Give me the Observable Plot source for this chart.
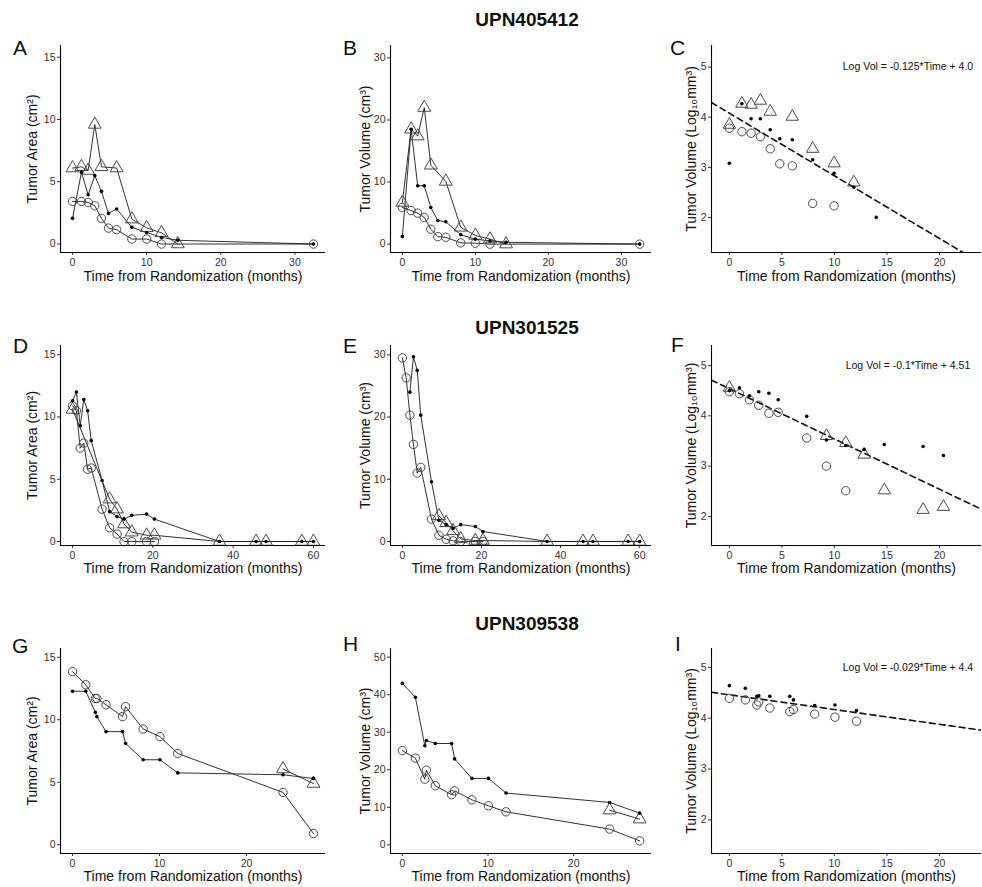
<!DOCTYPE html>
<html>
<head>
<meta charset="utf-8">
<script src="https://cdn.jsdelivr.net/npm/d3@7"></script>
<script src="https://cdn.jsdelivr.net/npm/@observablehq/plot@0.6"></script>
<style>
  html, body { margin: 0; padding: 0; background: #fff; }
  #fig { position: relative; width: 982px; height: 887px; font-family: "Liberation Sans", Arial, sans-serif; overflow: hidden; }
  .panel { position: absolute; }
  .letter { position: absolute; font-size: 21px; line-height: 1; color: #111; }
  .title { position: absolute; font-size: 19px; font-weight: bold; line-height: 1; color: #111; transform: translateX(-50%); white-space: nowrap; }
</style>
</head>
<body>
<div id="fig"></div>
<script>
// ---------------- DATA ----------------
const patients = ["UPN405412", "UPN301525", "UPN309538"];
const panelLetters = ["A", "B", "C", "D", "E", "F", "G", "H", "I"];
const xTitle = "Time from Randomization (months)";
const yTitles = ["Tumor Area (cm²)", "Tumor Volume (cm³)", "Tumor Volume (Log₁₀mm³)"];

// Row 1: UPN405412
const timeR1 = [0, 1.2, 2.1, 3.0, 3.9, 4.85, 5.95, 8.0, 10.0, 12.0, 14.2, 32.5];
const areaDotsA    = [2.06, 5.76, 3.96, 5.49, 4.23, 2.46, 2.81, 1.34, 0.93, 0.53, 0.3, 0.0];
const areaCirclesA = [3.42, 3.42, 3.34, 3.07, 2.06, 1.28, 1.15, 0.4, 0.4, 0.0, null, 0.0];
const areaTrisA    = [6.1, 6.2, 5.9, 9.6, 6.2, null, 6.1, 2.0, 1.3, 0.9, 0.0, null];
const volDotsB     = [1.24, 18.5, 9.4, 9.4, 5.9, 3.8, 3.6, 1.5, 0.8, 0.5, 0.3, 0.0];
const volCirclesB  = [5.9, 5.4, 5.0, 4.3, 2.4, 1.2, 1.1, 0.2, 0.15, 0.0, null, 0.0];
const volTrisB     = [6.7, 18.5, 17.4, 22.0, 12.7, null, 10.1, 2.7, 1.4, 0.8, 0.0, null];
const timeC = [0, 1.19, 2.07, 2.95, 3.89, 4.8, 5.99, 7.93, 9.97, 11.85, 13.98];
const logDotsC    = [3.08, 4.27, 3.97, 3.97, 3.75, 3.57, 3.55, 3.15, 2.88, 2.6, 2.0];
const logCirclesC = [3.78, 3.71, 3.68, 3.61, 3.37, 3.07, 3.03, 2.28, 2.23, null, null];
const logTrisC    = [3.85, 4.27, 4.25, 4.33, 4.11, null, 4.01, 3.37, 3.08, 2.7, null];
const fitC = { slope: -0.125, intercept: 4.08, text: "Log Vol = -0.125*Time + 4.0" };

// Row 2: UPN301525
const timeR2 = [0, 0.96, 1.91, 2.8, 3.76, 4.65, 7.36, 9.24, 11.08, 12.83, 14.75, 18.44, 20.38, 36.6, 45.7, 48.2, 57.1, 60.0];
const areaDotsD    = [11.3, 12.0, 9.3, 11.4, 10.5, 8.1, 4.9, 2.4, 2.0, 1.8, 2.1, 2.2, 1.8, 0, 0, 0, 0, 0];
const areaCirclesD = [10.9, 10.5, 7.5, 7.9, 5.8, 5.9, 2.6, 1.1, 0.6, 0, 0, 0, 0];
const areaTrisD    = [10.6, null, null, null, null, null, null, 3.4, 2.6, 1.4, 0.75, 0.5, 0.5, 0, 0, 0, 0, 0];
const volDotsE     = [null, null, 24.0, 29.7, 27.5, 20.3, 9.6, 3.4, 2.7, 2.1, 2.7, 2.4, 1.6, 0, 0, 0, 0, 0];
const volCirclesE  = [29.5, 26.3, 20.3, 15.6, 11.0, 11.9, 3.6, 1.0, 0.35, 0.1, 0, 0, 0];
const volTrisE     = [null, null, null, null, null, null, null, 4.1, 3.0, 1.7, 0.4, 0.15, 0.15, 0, 0, 0, 0, 0];
const logDotsF     = [4.5, 4.56, 4.4, 4.48, 4.45, 4.32, 3.99, 3.52, 3.41, 3.33, 3.43, 3.39, 3.21];
const logCirclesF  = [4.48, 4.44, 4.32, 4.21, 4.05, 4.07, 3.56, 3.0, 2.51];
const logTrisF     = [4.56, null, null, null, null, null, null, 3.6, 3.46, 3.23, 2.52, 2.13, 2.19];
const fitF = { slope: -0.1, intercept: 4.54, text: "Log Vol = -0.1*Time + 4.51" };

// Row 3: UPN309538
const timeR3 = [0, 1.52, 2.62, 2.8, 3.85, 5.75, 6.1, 8.12, 10.05, 12.1, 24.2, 27.7];
const areaDotsG    = [12.28, 12.28, 10.6, 10.25, 9.05, 9.05, 8.1, 6.8, 6.8, 5.75, 5.6, 5.3];
const areaCirclesG = [13.85, 12.8, 11.7, 11.7, 11.2, 10.25, 11.05, 9.26, 8.65, 7.3, 4.19, 0.9];
const areaTrisG    = [null, null, null, null, null, null, null, null, null, null, 6.06, 4.9];
const volDotsH     = [43.0, 39.3, 26.4, 27.8, 27.0, 27.0, 22.9, 17.7, 17.7, 13.8, 11.3, 8.45];
const volCirclesH  = [25.1, 23.1, 17.5, 19.9, 15.75, 13.35, 14.4, 12.0, 10.4, 8.8, 4.2, 1.07];
const volTrisH     = [null, null, null, null, null, null, null, null, null, null, 9.25, 6.85];
const logDotsI     = [4.64, 4.59, 4.43, 4.44, 4.43, 4.43, 4.36, 4.25, 4.26, 4.15];
const logCirclesI  = [4.39, 4.36, 4.26, 4.32, 4.2, 4.13, 4.17, 4.08, 4.02, 3.94];
const fitI = { slope: -0.029, intercept: 4.46, text: "Log Vol = -0.029*Time + 4.4" };

// Tick values
const ticksTime1 = [0, 10, 20, 30];
const ticksTime2 = [0, 20, 40, 60];
const ticksTime3 = [0, 10, 20];
const ticksLogTime = [0, 5, 10, 15, 20];
const ticksArea = [0, 5, 10, 15];
const ticksVol30 = [0, 10, 20, 30];
const ticksVol50 = [0, 10, 20, 30, 40, 50];
const ticksLog = [2, 3, 4, 5];
const eqAnchor = { t: 17, v: 5 };

// ---------------- LAYOUT ----------------
const FONT = '"Liberation Sans", Arial, sans-serif';
const COLS = [
  { left: 0, ml: 60, w: 326 },
  { left: 330, ml: 60, w: 322 },
  { left: 652, ml: 59, w: 330 }
];
const ROWS = [
  { top: 30, mt: 15, fh: 207, mb: 40, titleDy: 19 },
  { top: 330, mt: 15, fh: 200, mb: 40, titleDy: 18 },
  { top: 633, mt: 15, fh: 205, mb: 34, titleDy: 18 }
];

function series(times, vals) {
  return times.map((t, i) => ({ t, v: vals[i] })).filter(d => d.v != null);
}
function expand(ext) {
  const r = ext[1] - ext[0];
  return [ext[0] - 0.05 * r, ext[1] + 0.05 * r];
}

function makePanel(cfg) {
  const col = COLS[cfg.col], row = ROWS[cfg.row];
  const dots = series(cfg.times, cfg.dots);
  const circles = series(cfg.times, cfg.circles);
  const tris = series(cfg.times, cfg.tris || []);
  const all = dots.concat(circles, tris);
  const xDomain = cfg.xDomain || expand(d3.extent(all, d => d.t));
  const yDomain = cfg.yDomain;
  const lineStyle = { x: "t", y: "v", stroke: "#1a1a1a", strokeWidth: 0.9 };
  const marks = [];
  if (cfg.connect) {
    marks.push(Plot.line(tris, lineStyle));
    marks.push(Plot.line(circles, lineStyle));
    marks.push(Plot.line(dots, lineStyle));
  }
  if (cfg.fit) {
    const f = cfg.fit;
    const fitLine = xDomain.map(t => ({ t, v: f.intercept + f.slope * t }));
    marks.push(Plot.line(fitLine, { x: "t", y: "v", stroke: "#111", strokeWidth: 1.6, strokeDasharray: "6,4", clip: true }));
    marks.push(Plot.text([eqAnchor], { x: "t", y: "v", text: () => f.text, fontSize: 10.5, fill: "#111" }));
  }
  marks.push(Plot.dot(tris, { x: "t", y: "v", symbol: "triangle", r: cfg.triR || 4.8, stroke: "#4a4a4a", strokeWidth: 1, fill: "none" }));
  marks.push(Plot.dot(circles, { x: "t", y: "v", symbol: "circle", r: 4.2, stroke: "#4a4a4a", strokeWidth: 1, fill: "none" }));
  marks.push(Plot.dot(dots, { x: "t", y: "v", r: 1.8, fill: "#000" }));
  // axes
  marks.push(Plot.axisX(cfg.xTicks, { tickSize: 3, tickPadding: 3, fontSize: 10.5, fill: "#333", stroke: "#333", label: null, tickFormat: d => String(d) }));
  marks.push(Plot.axisY(cfg.yTicks, { tickSize: 3, tickPadding: 2, fontSize: 10.5, fill: "#333", stroke: "#333", label: null, tickFormat: d => String(d) }));
  marks.push(Plot.ruleX([xDomain[0]], { stroke: "#000", strokeWidth: 1.1 }));
  marks.push(Plot.ruleY([yDomain[0]], { stroke: "#000", strokeWidth: 1.1 }));
  // axis titles
  marks.push(Plot.text([xTitle], { frameAnchor: "bottom", textAnchor: "middle", lineAnchor: "top", dy: row.titleDy, fontSize: 14, fill: "#111" }));
  marks.push(Plot.text([cfg.yTitle], { frameAnchor: "left", textAnchor: "middle", lineAnchor: "middle", rotate: -90, dx: -cfg.yTitleGap, fontSize: 14, fill: "#111" }));

  const chart = Plot.plot({
    width: col.w,
    height: row.mt + row.fh + row.mb,
    marginLeft: col.ml,
    marginRight: 1,
    marginTop: row.mt,
    marginBottom: row.mb,
    x: { domain: xDomain, axis: null },
    y: { domain: yDomain, axis: null },
    style: { fontFamily: FONT, background: "transparent", overflow: "visible" },
    marks
  });
  const div = document.createElement("div");
  div.className = "panel";
  div.style.left = col.left + "px";
  div.style.top = row.top + "px";
  div.appendChild(chart);
  document.getElementById("fig").appendChild(div);
}

const panels = [
  { row: 0, col: 0, times: timeR1, dots: areaDotsA, circles: areaCirclesA, tris: areaTrisA, connect: true,
    yDomain: [-0.68, 15.94], xTicks: ticksTime1, yTicks: ticksArea, yTitle: yTitles[0], yTitleGap: 28 },
  { row: 0, col: 1, times: timeR1, dots: volDotsB, circles: volCirclesB, tris: volTrisB, connect: true,
    yDomain: [-1.35, 32.0], xTicks: ticksTime1, yTicks: ticksVol30, yTitle: yTitles[1], yTitleGap: 25 },
  { row: 0, col: 2, times: timeC, dots: logDotsC, circles: logCirclesC, tris: logTrisC, fit: fitC, triR: 4.6,
    xDomain: [-1.7, 24], yDomain: [1.3, 5.43], xTicks: ticksLogTime, yTicks: ticksLog, yTitle: yTitles[2], yTitleGap: 20 },
  { row: 1, col: 0, times: timeR2, dots: areaDotsD, circles: areaCirclesD, tris: areaTrisD, connect: true,
    yDomain: [-0.32, 15.74], xTicks: ticksTime2, yTicks: ticksArea, yTitle: yTitles[0], yTitleGap: 28 },
  { row: 1, col: 1, times: timeR2, dots: volDotsE, circles: volCirclesE, tris: volTrisE, connect: true,
    yDomain: [-0.65, 31.5], xTicks: ticksTime2, yTicks: ticksVol30, yTitle: yTitles[1], yTitleGap: 25 },
  { row: 1, col: 2, times: timeR2, dots: logDotsF, circles: logCirclesF, tris: logTrisF, fit: fitF, triR: 4.6,
    xDomain: [-1.7, 24], yDomain: [1.42, 5.4], xTicks: ticksLogTime, yTicks: ticksLog, yTitle: yTitles[2], yTitleGap: 20 },
  { row: 2, col: 0, times: timeR3, dots: areaDotsG, circles: areaCirclesG, tris: areaTrisG, connect: true,
    yDomain: [-0.7, 15.7], xTicks: ticksTime3, yTicks: ticksArea, yTitle: yTitles[0], yTitleGap: 28 },
  { row: 2, col: 1, times: timeR3, dots: volDotsH, circles: volCirclesH, tris: volTrisH, connect: true,
    yDomain: [-2.3, 52.3], xTicks: ticksTime3, yTicks: ticksVol50, yTitle: yTitles[1], yTitleGap: 25 },
  { row: 2, col: 2, times: timeR3, dots: logDotsI, circles: logCirclesI, fit: fitI,
    xDomain: [-1.7, 24], yDomain: [1.34, 5.37], xTicks: ticksLogTime, yTicks: ticksLog, yTitle: yTitles[2], yTitleGap: 20 }
];
panels.forEach(makePanel);

// letters and titles
const fig = document.getElementById("fig");
const letterPos = [[13, 37], [343, 37], [670, 37], [13, 335], [343, 335], [671, 334], [12, 635], [343, 633], [675, 633]];
panelLetters.forEach((L, i) => {
  const d = document.createElement("div");
  d.className = "letter";
  d.textContent = L;
  d.style.left = letterPos[i][0] + "px";
  d.style.top = letterPos[i][1] + "px";
  fig.appendChild(d);
});
const titleTops = [10, 318, 614];
patients.forEach((p, i) => {
  const d = document.createElement("div");
  d.className = "title";
  d.textContent = p;
  d.style.left = "527px";
  d.style.top = titleTops[i] + "px";
  fig.appendChild(d);
});
</script>
</body>
</html>
